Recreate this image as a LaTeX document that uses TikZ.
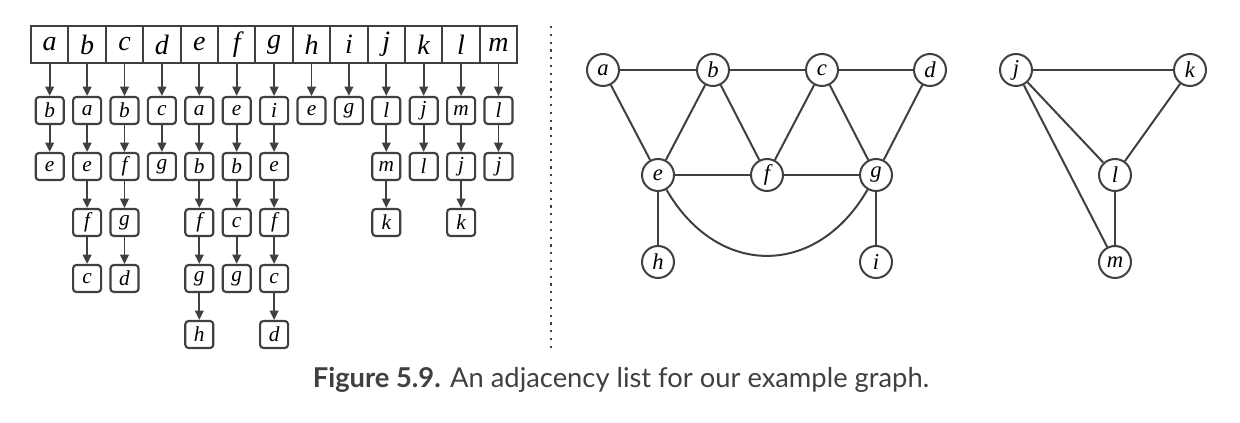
\documentclass[tikz,border=0pt]{standalone}
\usepackage{fontspec}
\setsansfont{Lato}
\newfontfamily\letterfont{Liberation Serif}
\usetikzlibrary{arrows.meta}
\definecolor{ink}{HTML}{404040}
\tikzset{
  cell/.style={draw=ink, line width=1.5pt, minimum width=28.05pt, minimum height=27.75pt, inner sep=0pt, font=\letterfont\itshape\fontsize{21}{22}\selectfont},
  item/.style={draw=ink, line width=1.6pt, rounded corners=2.5pt, minimum width=21pt, minimum height=20.25pt, inner sep=0pt, font=\letterfont\itshape\fontsize{16}{17}\selectfont},
  link/.style={draw=ink, line width=1.4pt, -{Triangle[length=7pt,width=6.5pt]}},
  vertex/.style={circle, draw=ink, line width=1.5pt, minimum size=24pt, inner sep=0pt, font=\letterfont\itshape\fontsize{17}{18}\selectfont},
  edge/.style={draw=ink, line width=1.5pt}
}
\begin{document}
\begin{tikzpicture}[x=0.75pt, y=-0.75pt]
	\useasboundingbox (0,0) rectangle (1240,423);
	% header array
	\foreach \c [count=\n] in {a,b,c,d,e,f,g,h,i,j,k,l,m}
		\node[cell] (h\c) at ({31+37.4*(\n-0.5)},44.5) {\c};
	% adjacency lists
	\foreach \c/\lst [count=\n] in {a/{b,e}, b/{a,e,f,c}, c/{b,f,g,d}, d/{c,g}, e/{a,b,f,g,h}, f/{e,b,c,g}, g/{i,e,f,c,d}, h/{e}, i/{g}, j/{l,m,k}, k/{j,l}, l/{m,j,k}, m/{l,j}} {
		\foreach \v [count=\r, remember=\r as \p (initially 0)] in \lst {
			\node[item] (\c\r) at ({31+37.4*(\n-0.5)},{110.5+56*(\r-1)}) {\v};
			\ifnum\r=1 \draw[link] (h\c) -- (\c\r); \else \draw[link] (\c\p) -- (\c\r); \fi
		}
	}
	% separator
	\coordinate (septop) at (551,26);
	\coordinate (sepbot) at (551,350);
	\draw[ink, line width=1.6pt, dash pattern=on 1.6pt off 4.25pt] (septop) -- (sepbot);
	% first component
	\node[vertex] (a) at (603,70) {a};
	\node[vertex] (b) at (713,70) {b};
	\node[vertex] (c) at (822,70) {c};
	\node[vertex] (d) at (930,70) {d};
	\node[vertex] (e) at (658,175) {e};
	\node[vertex] (f) at (767,175) {f};
	\node[vertex] (g) at (876,175) {g};
	\node[vertex] (h) at (658,262) {h};
	\node[vertex] (i) at (876,262) {i};
	\draw[edge] (a) -- (b) -- (c) -- (d);
	\draw[edge] (a) -- (e);
	\draw[edge] (b) -- (e);
	\draw[edge] (b) -- (f);
	\draw[edge] (c) -- (f);
	\draw[edge] (c) -- (g);
	\draw[edge] (d) -- (g);
	\draw[edge] (e) -- (f) -- (g);
	\draw[edge] (e) -- (h);
	\draw[edge] (g) -- (i);
	\draw[edge] (e) to[out=-60, in=-120, looseness=1.3] (g);
	% second component
	\node[vertex] (j) at (1016,70) {j};
	\node[vertex] (k) at (1190,70) {k};
	\node[vertex] (l) at (1115,175) {l};
	\node[vertex] (m) at (1115,262) {m};
	\draw[edge] (j) -- (k);
	\draw[edge] (j) -- (l);
	\draw[edge] (j) -- (m);
	\draw[edge] (k) -- (l);
	\draw[edge] (l) -- (m);
	% caption
	\node[text=ink, font=\sffamily\fontsize{20.5}{22}\selectfont] (cap) at (621,380) {\textbf{Figure 5.9.} An adjacency list for our example graph.};
\end{tikzpicture}
\end{document}
